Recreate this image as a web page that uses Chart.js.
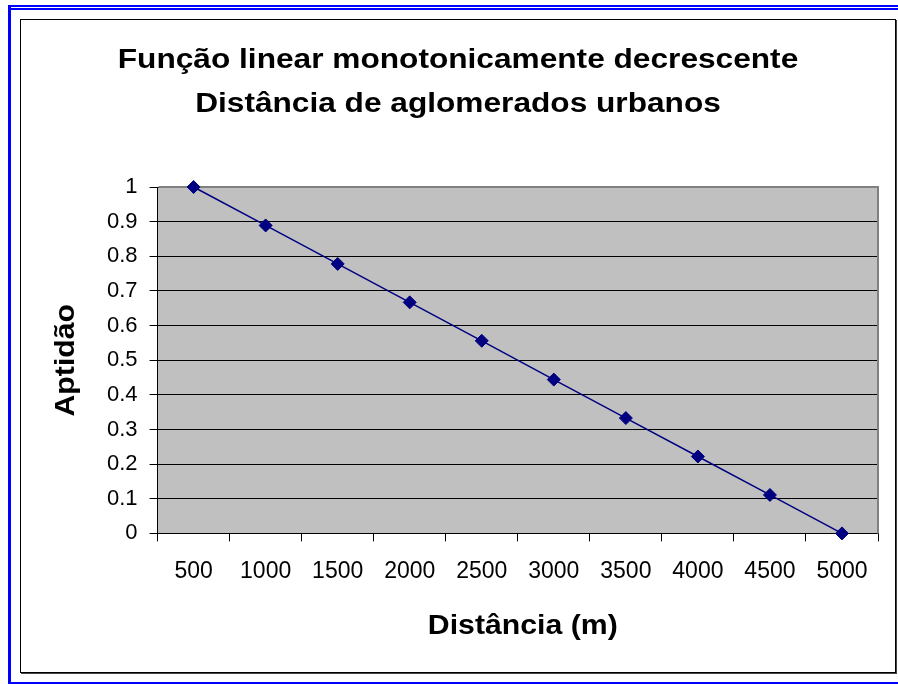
<!DOCTYPE html>
<html>
<head>
<meta charset="utf-8">
<script src="https://cdn.jsdelivr.net/npm/chart.js@4.4.0/dist/chart.umd.min.js"></script>
<style>
    body { margin: 0; background: #fff; }
    #wrap { position: relative; width: 898px; height: 684px; overflow: hidden; background: #fff; }
    #chart { position: absolute; left: 0; top: 0; }
    .blue { position: absolute; background: #0000ff; }
    #frame {
        position: absolute; left: 20px; top: 19px; width: 874px; height: 652px;
        border: 1px solid #000; box-shadow: 1px 1px 0 #444;
    }
</style>
</head>
<body>
<div id="wrap">
    <div id="frame"></div>
    <canvas id="chart" width="898" height="684"></canvas>
    <div class="blue" style="left:8px; top:5px; width:890px; height:2px;"></div>
    <div class="blue" style="left:8px; top:8px; width:890px; height:2px;"></div>
    <div class="blue" style="left:8px; top:5px; width:3px; height:679px;"></div>
    <div class="blue" style="left:8px; top:682px; width:890px; height:2px;"></div>
</div>
<script>
// chart data
const distLabels = ["500", "1000", "1500", "2000", "2500", "3000", "3500", "4000", "4500", "5000"];
const aptidao = [1, 0.889, 0.778, 0.667, 0.556, 0.444, 0.333, 0.222, 0.111, 0];
const yTickLabels = ["0", "0.1", "0.2", "0.3", "0.4", "0.5", "0.6", "0.7", "0.8", "0.9", "1"];

const titleLines = ["Função linear monotonicamente decrescente", "Distância de aglomerados urbanos"];
const xTitle = "Distância (m)";
const yTitle = "Aptidão";

const fontFamily = '"Liberation Sans", Arial, sans-serif';

// draws text a bit wider, like the stretched Excel fonts
function wideText(ctx, text, x, y, sx, rot) {
    ctx.save();
    ctx.translate(x, y);
    if (rot) ctx.rotate(rot);
    ctx.scale(sx, 1);
    ctx.fillText(text, 0, 0);
    ctx.restore();
}

// gray plot area with a darker top/right edge
const plotArea = {
    id: "plotArea",
    beforeDraw(chart) {
        const { ctx, chartArea: a } = chart;
        ctx.save();
        ctx.fillStyle = "#c0c0c0";
        ctx.fillRect(a.left, a.top, a.right - a.left, a.bottom - a.top);
        ctx.restore();
    },
    beforeDatasetsDraw(chart) {
        const { ctx, chartArea: a } = chart;
        ctx.save();
        ctx.strokeStyle = "#808080";
        ctx.lineWidth = 2;
        ctx.beginPath();
        ctx.moveTo(a.left + 1, a.top);
        ctx.lineTo(a.right, a.top);
        ctx.lineTo(a.right, a.bottom);
        ctx.stroke();
        ctx.restore();
    }
};

// titles
const titles = {
    id: "titles",
    afterDraw(chart) {
        const { ctx, chartArea: a } = chart;
        ctx.save();
        ctx.fillStyle = "#000";
        ctx.textAlign = "center";
        ctx.textBaseline = "alphabetic";

        ctx.font = "bold 28px " + fontFamily;
        wideText(ctx, titleLines[0], 458, 68, 1.13);
        wideText(ctx, titleLines[1], 458, 112, 1.13);

        wideText(ctx, xTitle, (a.left + a.right) / 2 + 5, 634, 1.08);
        wideText(ctx, yTitle, 74, (a.top + a.bottom) / 2, 1.08, -Math.PI / 2);
        ctx.restore();
    }
};

const ctx = document.getElementById("chart").getContext("2d");

new Chart(ctx, {
    type: "line",
    data: {
        labels: distLabels,
        datasets: [{
            data: aptidao,
            borderColor: "#000080",
            backgroundColor: "#000080",
            borderWidth: 1.5,
            pointStyle: "rectRot",
            pointRadius: 6.5,
            pointBorderWidth: 1,
            tension: 0,
            clip: false
        }]
    },
    options: {
        responsive: false,
        animation: false,
        layout: {
            padding: { left: 95, right: 20, top: 187, bottom: 83 }
        },
        plugins: {
            legend: { display: false },
            tooltip: { enabled: false },
            title: { display: false }
        },
        scales: {
            x: {
                offset: true,
                grid: {
                    offset: true,
                    drawOnChartArea: false,
                    color: "#000",
                    tickLength: 8
                },
                border: { color: "#000", width: 1 },
                ticks: {
                    color: "#000",
                    padding: 16,
                    maxRotation: 0,
                    font: { family: fontFamily, size: 23 }
                }
            },
            y: {
                min: 0,
                max: 1,
                grid: {
                    color: "#000",
                    tickLength: 8
                },
                border: { color: "#000", width: 1 },
                ticks: {
                    stepSize: 0.1,
                    color: "#000",
                    padding: 12,
                    font: { family: fontFamily, size: 22 },
                    callback: (value, index) => yTickLabels[index]
                }
            }
        }
    },
    plugins: [plotArea, titles]
});
</script>
</body>
</html>
